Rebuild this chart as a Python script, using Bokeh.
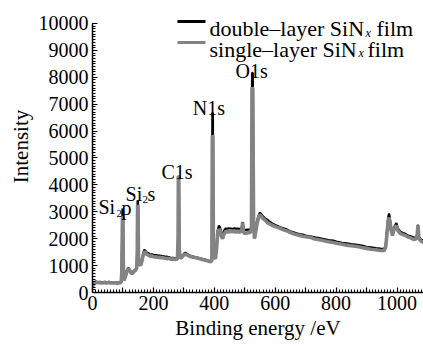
from bokeh.plotting import figure
from bokeh.models import Label, FixedTicker, Range1d
from bokeh.embed import file_html
from bokeh.resources import INLINE

# ---------------- data ----------------
energy = [0, 3, 6, 10, 15, 20, 25, 30, 35, 40, 45, 50, 55, 60, 65, 70, 75, 80, 85, 90,
          94, 96, 98.5, 100, 101.5, 103, 106, 110, 114, 118, 122, 127, 131, 136, 141, 145,
          147, 148, 149.5, 151, 154, 158, 162, 166, 170, 174, 178, 182, 186, 190, 195,
          200, 205, 210, 215, 220, 225, 230, 235, 240, 245, 250, 255, 260, 265, 270, 275,
          279, 281, 282, 283.5, 285, 288, 292, 296, 300, 305, 310, 315, 320, 330, 340,
          350, 360, 370, 380, 388, 392, 393.5, 395.5, 397, 400, 404, 408, 411, 415, 419,
          423, 427, 432, 437, 442, 447, 452, 457, 462, 467, 472, 477, 482, 486, 490, 493,
          496, 500, 505, 510, 515, 519, 522, 524, 526.5, 529, 532, 536, 541, 546, 550,
          555, 560, 566, 574, 582, 590, 600, 610, 617, 630, 640, 650, 660, 670, 680, 690,
          700, 716, 730, 745, 760, 775, 791, 805, 820, 835, 850, 870, 885, 900, 915, 930,
          946, 958, 963, 967, 971, 974, 977, 981, 985, 989, 994, 998, 1003, 1011, 1020,
          1028, 1036, 1045, 1055, 1062, 1066, 1069, 1072, 1080, 1090]

single_layer = [220, 300, 340, 380, 370, 360, 370, 350, 360, 370, 350, 360, 370, 350, 360, 350, 360, 340, 350, 360,
                380, 700, 2830, 2800, 900, 450, 520, 650, 820, 890, 820, 720, 700, 780, 820, 900,
                1500, 3250, 3200, 1300, 1050, 1000, 1150, 1370, 1520, 1480, 1420, 1400, 1380, 1340, 1360,
                1330, 1320, 1330, 1300, 1310, 1290, 1300, 1280, 1270, 1260, 1270, 1250, 1240, 1250, 1230, 1240,
                1250, 2000, 4330, 4300, 1600, 1280, 1300, 1340, 1400, 1430, 1400, 1370, 1340, 1310, 1290,
                1260, 1230, 1200, 1170, 1140, 1200, 5840, 5800, 1800, 1300, 1260, 1700, 2190, 2350, 2300,
                2100, 2000, 2180, 2270, 2250, 2270, 2260, 2280, 2260, 2270, 2250, 2270, 2250, 2260, 2300, 2600,
                2250, 2190, 2210, 2220, 2230, 2230, 2400, 7620, 7580, 2600, 2000, 2250, 2600, 2800, 2900,
                2820, 2750, 2700, 2600, 2550, 2500, 2450, 2410, 2380, 2320, 2280, 2230, 2180, 2150, 2120, 2090,
                2070, 2050, 1990, 1960, 1920, 1890, 1860, 1820, 1790, 1760, 1740, 1710, 1670, 1640, 1610, 1590,
                1560, 1560, 1700, 2190, 2650, 2790, 2600, 2300, 2120, 2300, 2420, 2490, 2300, 2190, 2150,
                2120, 2060, 2030, 1970, 1990, 2100, 2500, 2000, 1900, 1860]

double_layer = [260, 330, 380, 410, 400, 390, 400, 380, 390, 400, 380, 390, 400, 380, 380, 370, 380, 360, 370, 380,
                400, 750, 3120, 3080, 950, 480, 550, 680, 850, 920, 850, 750, 730, 810, 850, 930,
                1550, 3420, 3380, 1350, 1080, 1040, 1200, 1430, 1590, 1550, 1490, 1470, 1440, 1410, 1420,
                1400, 1390, 1390, 1370, 1370, 1360, 1350, 1340, 1330, 1330, 1320, 1300, 1290, 1290, 1270, 1270,
                1280, 2000, 4330, 4300, 1620, 1300, 1320, 1370, 1440, 1480, 1440, 1400, 1370, 1340, 1310,
                1280, 1250, 1220, 1190, 1160, 1230, 6690, 6650, 1900, 1350, 1300, 1800, 2300, 2490, 2420,
                2230, 2120, 2300, 2380, 2370, 2390, 2380, 2380, 2370, 2390, 2370, 2380, 2370, 2380, 2400, 2620,
                2350, 2340, 2330, 2340, 2340, 2350, 2500, 8180, 8150, 2700, 2100, 2350, 2700, 2880, 2970,
                2900, 2830, 2760, 2710, 2630, 2570, 2510, 2460, 2420, 2380, 2330, 2270, 2240, 2200, 2170, 2150,
                2120, 2090, 2050, 2020, 1990, 1950, 1930, 1880, 1850, 1830, 1800, 1770, 1740, 1700, 1680, 1650,
                1630, 1620, 1760, 2300, 2800, 2940, 2720, 2400, 2200, 2380, 2500, 2580, 2380, 2260, 2210,
                2180, 2120, 2090, 2040, 2050, 2150, 2520, 2050, 1960, 1920]

x_major_ticks = [0, 100, 200, 300, 400, 500, 600, 700, 800, 900, 1000]
x_tick_labels = {0: "0", 100: "", 200: "200", 300: "", 400: "400", 500: "", 600: "600",
                 700: "", 800: "800", 900: "", 1000: "1000"}
y_major_ticks = [0, 1000, 2000, 3000, 4000, 5000, 6000, 7000, 8000, 9000, 10000]

series_names = ["double\u2013layer SiN", "single\u2013layer SiN"]
peak_names = ["Si", "2", "p", "Si", "2", "s", "C1s", "N1s", "O1s"]

FONT = "Liberation Serif"
GRAY = "#838383"

p = figure(width=423, height=346, output_backend="svg", toolbar_location=None,
           x_range=Range1d(0, 1087), y_range=Range1d(0, 10855),
           min_border_left=92, min_border_right=0, min_border_top=0, min_border_bottom=54)
p.outline_line_color = None
p.grid.visible = False
p.background_fill_color = "white"

p.line(energy, double_layer, line_color="black", line_width=2.2)
p.line(energy, single_layer, line_color=GRAY, line_width=3.6)

# axes
p.xaxis.ticker = FixedTicker(ticks=x_major_ticks, minor_ticks=list(range(10, 1091, 10)))
p.xaxis.major_label_overrides = x_tick_labels
p.yaxis.ticker = FixedTicker(ticks=y_major_ticks, minor_ticks=list(range(100, 10001, 100)))
p.yaxis.bounds = (0, 10000)
p.xaxis.axis_label = "Binding energy /eV"
p.yaxis.axis_label = "Intensity"
for ax in (p.xaxis, p.yaxis):
    ax.axis_line_width = 1.5
    ax.axis_line_color = "black"
    ax.major_tick_in = 5
    ax.major_tick_out = 0
    ax.minor_tick_in = 3
    ax.minor_tick_out = 0
    ax.major_tick_line_color = "black"
    ax.minor_tick_line_color = "black"
    ax.major_tick_line_width = 1.2
    ax.minor_tick_line_width = 1
    ax.major_label_text_font = FONT
    ax.major_label_text_font_size = "20px"
    ax.major_label_text_color = "black"
    ax.axis_label_text_font = FONT
    ax.axis_label_text_font_size = "21px"
    ax.axis_label_text_font_style = "normal"
    ax.axis_label_text_color = "black"
p.xaxis.major_label_standoff = 3
p.xaxis.axis_label_standoff = 3
p.yaxis.major_label_standoff = 4
p.yaxis.axis_label_standoff = 3

# legend (manual, with italic subscript x)
p.segment(x0=[279], y0=[10074], x1=[371], y1=[10074], line_color="black", line_width=3)
p.segment(x0=[279], y0=[9294], x1=[371], y1=[9294], line_color=GRAY, line_width=3)

def lab(x, y, t, size="20px", style="normal"):
    p.add_layout(Label(x=x, y=y, text=t, text_font=FONT, text_font_size=size,
                       text_font_style=style, text_baseline="alphabetic",
                       text_align="left", text_color="black"))

lab(384.2, 9814, series_names[0], "22px")
lab(896.6, 9665, "x", "12px", "italic")
lab(932.7, 9814, "film", "22px")
lab(384.2, 9033, series_names[1], "22px")
lab(873.6, 8885, "x", "12px", "italic")
lab(903.1, 9033, "film", "22px")

# peak labels
lab(19.7, 3160, peak_names[0])
lab(78.8, 2937, peak_names[1], "11px")
lab(95.2, 3123, peak_names[2])
lab(108.4, 3680, peak_names[3])
lab(164.2, 3457, peak_names[4], "11px")
lab(180.6, 3680, peak_names[5])
lab(226.6, 4461, peak_names[6])
lab(329.0, 6877, peak_names[7])
lab(469.6, 8216, peak_names[8])

open("out.html", "w").write(file_html(p, INLINE))
